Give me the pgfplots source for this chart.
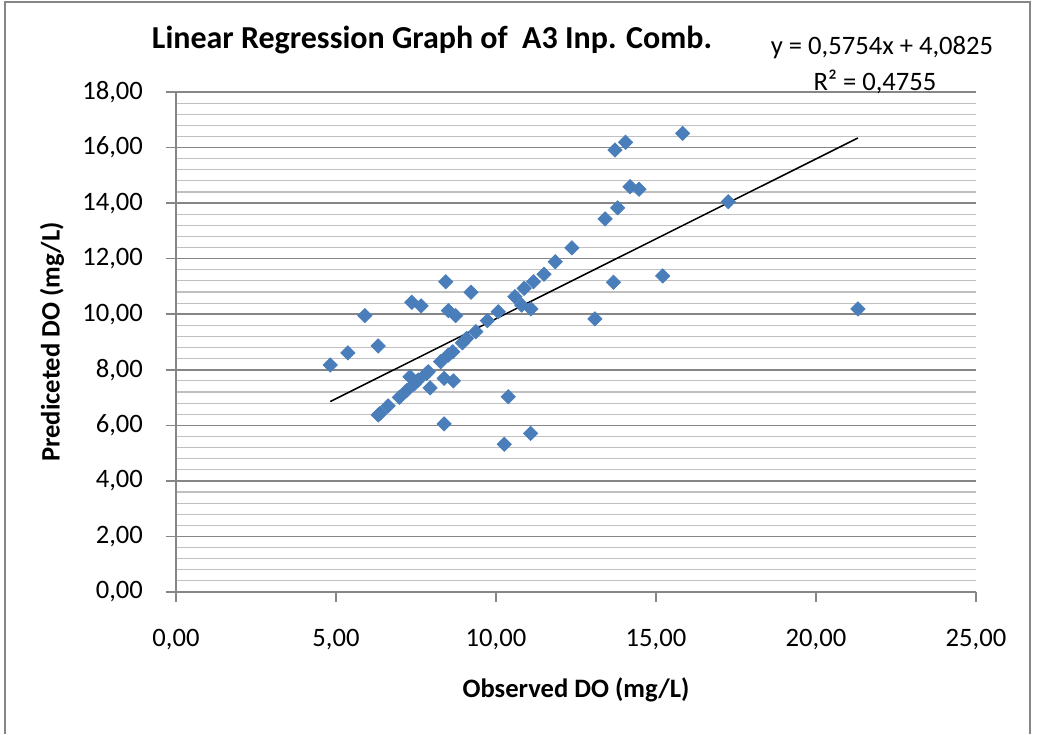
\documentclass[border=0pt]{standalone}
\usepackage{pgfplots}
\pgfplotsset{compat=1.18}
\usepackage{fontspec}
\setmainfont{Carlito}
\definecolor{mk}{HTML}{4A7EBB}
\definecolor{axg}{HTML}{868686}
\definecolor{mingrid}{HTML}{C0C0C0}
\begin{document}
\begin{tikzpicture}
\path[use as bounding box] (0,0) rectangle (518.5pt,367pt);
\draw[axg, line width=0.8pt] (2.5pt,0) -- (2.5pt,366pt) -- (515pt,366pt) -- (515pt,0);
\begin{axis}[
  at={(88pt,71pt)}, anchor=origin,
  scale only axis, width=400pt, height=250pt,
  xmin=0, xmax=25, ymin=0, ymax=18,
  axis lines=left,
  axis line style={axg, line width=0.8pt, -},
  xtick={0,5,10,15,20,25},
  ytick={0,2,...,18},
  minor y tick num=4,
  ymajorgrids, yminorgrids,
  major grid style={axg, line width=0.8pt},
  minor grid style={mingrid, line width=0.6pt},
  tick style={axg, line width=0.8pt},
  major tick length=5pt,
  minor tick length=0pt,
  tick align=outside,
  /pgf/number format/.cd, fixed, fixed zerofill, precision=2, use comma, assume math mode=true,
  /pgfplots/.cd,
  ticklabel style={font=\fontsize{13.3}{15}\selectfont},
  xticklabel style={anchor=center, yshift=-19pt},
  yticklabel style={anchor=east, xshift=-8pt},
  clip=false,
]
\addplot[only marks, mark=square*, mark size=2.5pt, mark options={rotate=45, fill=mk, draw=mk}] coordinates {
(4.82,8.17) (5.37,8.61) (5.90,9.95) (6.32,8.86) (6.32,6.37) (6.38,6.43)
(6.63,6.70) (6.98,7.01) (7.21,7.25) (7.31,7.75) (7.37,10.43) (7.45,7.49)
(7.57,7.63) (7.66,10.30) (7.83,7.87) (7.88,7.93) (7.94,7.35) (8.27,8.29)
(8.38,7.69) (8.38,6.05) (8.43,11.17) (8.51,10.13) (8.51,8.53) (8.65,8.65)
(8.67,7.60) (8.74,9.95) (8.95,8.97) (9.08,9.13) (9.22,10.79) (9.37,9.37)
(9.73,9.77) (10.07,10.09) (10.26,5.32) (10.38,7.03) (10.59,10.63) (10.80,10.33)
(10.88,10.93) (11.08,5.71) (11.09,10.19) (11.17,11.17) (11.50,11.44) (11.85,11.89)
(12.37,12.39) (13.09,9.83) (13.41,13.43) (13.67,11.15) (13.72,15.91) (13.80,13.83)
(14.05,16.19) (14.19,14.59) (14.47,14.50) (15.21,11.38) (15.83,16.51) (17.26,14.05)
(21.31,10.19)
};
\addplot[black, line width=0.75pt, no marks] coordinates {(4.82,6.856) (21.31,16.344)};
\end{axis}
\node[font=\fontsize{16}{19}\selectfont\bfseries] at (216pt,347pt) {Linear Regression Graph of\ \ A3 Inp. Comb.};
\node[font=\fontsize{13.3}{15}\selectfont] at (441pt,343pt) {y = 0,5754x + 4,0825};
\node[font=\fontsize{13.3}{15}\selectfont] at (437.5pt,326pt) {R² = 0,4755};
\node[font=\fontsize{13.3}{15}\selectfont\bfseries] at (288pt,22pt) {Observed DO (mg/L)};
\node[font=\fontsize{13.3}{15}\selectfont\bfseries, rotate=90] at (26pt,196pt) {Prediceted DO (mg/L)};
\end{tikzpicture}
\end{document}
